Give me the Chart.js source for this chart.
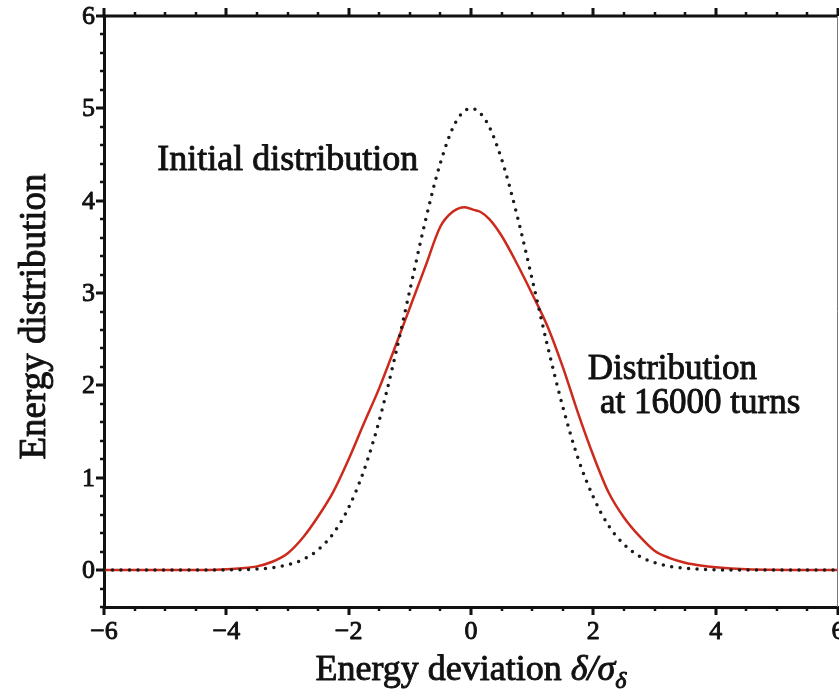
<!DOCTYPE html>
<html>
<head>
<meta charset="utf-8">
<title>Energy distribution</title>
<script src="https://cdn.jsdelivr.net/npm/chart.js@4.4.0/dist/chart.umd.min.js"></script>
<style>
  html, body { margin: 0; padding: 0; background: #fff; overflow: hidden; }
  #wrap { width: 839px; height: 692px; }
</style>
</head>
<body>
<div id="wrap"><canvas id="energyChart" width="839" height="692"></canvas></div>
<script>
// energy deviation (units of sigma) and distributions
const initialX = [-6, -4.5, -4, -3.75, -3.5, -3.25, -3, -2.75, -2.5, -2.25, -2, -1.75, -1.5, -1.25, -1, -0.75, -0.5, -0.25, 0,
                  0.25, 0.5, 0.75, 1, 1.25, 1.5, 1.75, 2, 2.25, 2.5, 2.75, 3, 3.25, 3.5, 3.75, 4, 4.5, 6];
const initialY = [0, 0, 0.002, 0.004, 0.011, 0.026, 0.056, 0.113, 0.219, 0.397, 0.677, 1.08, 1.62, 2.29, 3.03, 3.77, 4.41, 4.85, 5.0,
                  4.86, 4.45, 3.85, 3.15, 2.43, 1.77, 1.21, 0.79, 0.48, 0.28, 0.15, 0.08, 0.04, 0.02, 0.01, 0.003, 0, 0];

const turnsX = [-6, -4.5, -4, -3.75, -3.5, -3.25, -3, -2.75, -2.5, -2.25, -2, -1.75, -1.5, -1.25, -1, -0.75, -0.5, -0.3, -0.1,
                0.05, 0.15, 0.3, 0.5, 0.75, 1, 1.25, 1.5, 1.75, 2, 2.25, 2.5, 2.75, 3, 3.25, 3.5, 3.75, 4, 4.5, 6];
const turnsY = [0, 0, 0.01, 0.02, 0.04, 0.09, 0.18, 0.35, 0.58, 0.85, 1.20, 1.59, 1.97, 2.40, 2.84, 3.28, 3.72, 3.88, 3.93,
                3.90, 3.88, 3.80, 3.62, 3.32, 2.99, 2.64, 2.20, 1.70, 1.24, 0.84, 0.57, 0.37, 0.21, 0.13, 0.08, 0.05, 0.03, 0.01, 0];

const xTicks = [-6, -4, -2, 0, 2, 4, 6];
const yTicks = [0, 1, 2, 3, 4, 5, 6];

const FONT = "'Liberation Serif', 'DejaVu Serif', serif";
const INK = "#111";
const HEAVY = 0.9; // extra stroke to thicken the serif glyphs

const toPoints = (xs, ys) => xs.map((x, i) => ({ x: x, y: ys[i] }));
const fmtTick = v => (v < 0 ? "\u2212" + Math.abs(v) : String(v));

function heavyText(ctx, text, px, py) {
  ctx.fillText(text, px, py);
  ctx.strokeText(text, px, py);
}

// frame, ticks, tick labels, titles and curve labels
const framePlugin = {
  id: "frame",
  afterDraw(chart) {
    const { ctx, chartArea: a, scales: { x, y } } = chart;
    ctx.save();
    ctx.strokeStyle = INK;
    ctx.lineCap = "butt";

    // top border (thick) and right border (thin)
    ctx.lineWidth = 3;
    ctx.beginPath();
    ctx.moveTo(a.left - 1.5, a.top);
    ctx.lineTo(a.right, a.top);
    ctx.stroke();
    ctx.lineWidth = 1;
    ctx.strokeStyle = "#777";
    ctx.beginPath();
    ctx.moveTo(a.right - 0.5, a.top);
    ctx.lineTo(a.right - 0.5, a.bottom);
    ctx.stroke();
    ctx.strokeStyle = INK;

    // x ticks every 0.5, outward on bottom and top
    for (let v = -6; v <= 6.001; v += 0.5) {
      const px = Math.round(x.getPixelForValue(v));
      const major = Math.abs(v % 2) < 1e-6;
      ctx.lineWidth = major ? 3 : 2.5;
      const len = major ? 8 : 4;
      ctx.beginPath();
      ctx.moveTo(px, a.bottom);
      ctx.lineTo(px, a.bottom + len);
      ctx.moveTo(px, a.top);
      ctx.lineTo(px, a.top - len);
      ctx.stroke();
    }
    // y ticks every 0.2, outward on left
    for (let k = -2; k <= 30; k++) {
      const v = k / 5;
      const py = Math.round(y.getPixelForValue(v));
      const major = k % 5 === 0;
      ctx.lineWidth = major ? 3 : 2.5;
      const len = major ? 8 : 4;
      ctx.beginPath();
      ctx.moveTo(a.left, py);
      ctx.lineTo(a.left - len, py);
      ctx.stroke();
    }

    ctx.fillStyle = INK;
    ctx.lineWidth = HEAVY;
    ctx.lineJoin = "round";

    // tick labels
    ctx.font = "26px " + FONT;
    ctx.textBaseline = "middle";
    ctx.textAlign = "center";
    xTicks.forEach(v => heavyText(ctx, fmtTick(v), x.getPixelForValue(v), a.bottom + 25));
    ctx.textAlign = "right";
    yTicks.forEach(v => heavyText(ctx, fmtTick(v), a.left - 9, y.getPixelForValue(v) + 1));

    // curve labels
    ctx.textBaseline = "alphabetic";
    ctx.textAlign = "left";
    ctx.font = "36px " + FONT;
    heavyText(ctx, "Initial distribution", x.getPixelForValue(-5.13), y.getPixelForValue(4.33));
    ctx.font = "35px " + FONT;
    heavyText(ctx, "Distribution", x.getPixelForValue(1.91), y.getPixelForValue(2.07));
    heavyText(ctx, "at 16000 turns", x.getPixelForValue(2.11), y.getPixelForValue(1.70));

    // y axis title
    ctx.save();
    ctx.translate(45, (a.top + a.bottom) / 2 + 5);
    ctx.rotate(-Math.PI / 2);
    ctx.textAlign = "center";
    ctx.font = "37px " + FONT;
    heavyText(ctx, "Energy distribution", 0, 0);
    ctx.restore();

    // x axis title with subscript
    const parts = [
      { t: "Energy deviation ", f: "36px " + FONT, dy: 0 },
      { t: "\u03b4/\u03c3", f: "italic 36px " + FONT, dy: 0 },
      { t: "\u03b4", f: "italic 24px " + FONT, dy: 8 }
    ];
    let total = 0;
    parts.forEach(p => { ctx.font = p.f; p.w = ctx.measureText(p.t).width; total += p.w; });
    let cx = (a.left + a.right) / 2 - total / 2;
    const base = 680;
    parts.forEach(p => {
      ctx.font = p.f;
      heavyText(ctx, p.t, cx, base + p.dy);
      cx += p.w;
    });
    ctx.restore();
  }
};

new Chart(document.getElementById("energyChart"), {
  type: "line",
  data: {
    datasets: [
      {
        label: "Distribution at 16000 turns",
        data: toPoints(turnsX, turnsY),
        borderColor: "#cc2a1c",
        borderWidth: 2.5,
        pointRadius: 0,
        cubicInterpolationMode: "monotone",
        order: 2
      },
      {
        label: "Initial distribution",
        data: toPoints(initialX, initialY),
        borderColor: "#1a1a1a",
        borderWidth: 3.5,
        borderDash: [0, 8.5],
        borderCapStyle: "round",
        pointRadius: 0,
        cubicInterpolationMode: "monotone",
        order: 1
      }
    ]
  },
  options: {
    responsive: false,
    animation: false,
    layout: { padding: { top: 16, right: 1, left: 0, bottom: 0 } },
    plugins: { legend: { display: false }, tooltip: { enabled: false } },
    scales: {
      x: {
        type: "linear",
        min: -6,
        max: 6,
        grid: { display: false, drawTicks: false },
        border: { display: true, color: INK, width: 3 },
        ticks: { display: false },
        afterBuildTicks: s => { s.ticks = xTicks.map(v => ({ value: v })); },
        afterFit: s => { s.height = 85; s.paddingLeft = 0; s.paddingRight = 0; }
      },
      y: {
        type: "linear",
        min: -0.4,
        max: 6,
        grid: { display: false, drawTicks: false },
        border: { display: true, color: INK, width: 3 },
        ticks: { display: false },
        afterBuildTicks: s => { s.ticks = yTicks.map(v => ({ value: v })); },
        afterFit: s => { s.width = 104; s.paddingTop = 0; s.paddingBottom = 0; }
      }
    }
  },
  plugins: [framePlugin]
});
</script>
</body>
</html>
